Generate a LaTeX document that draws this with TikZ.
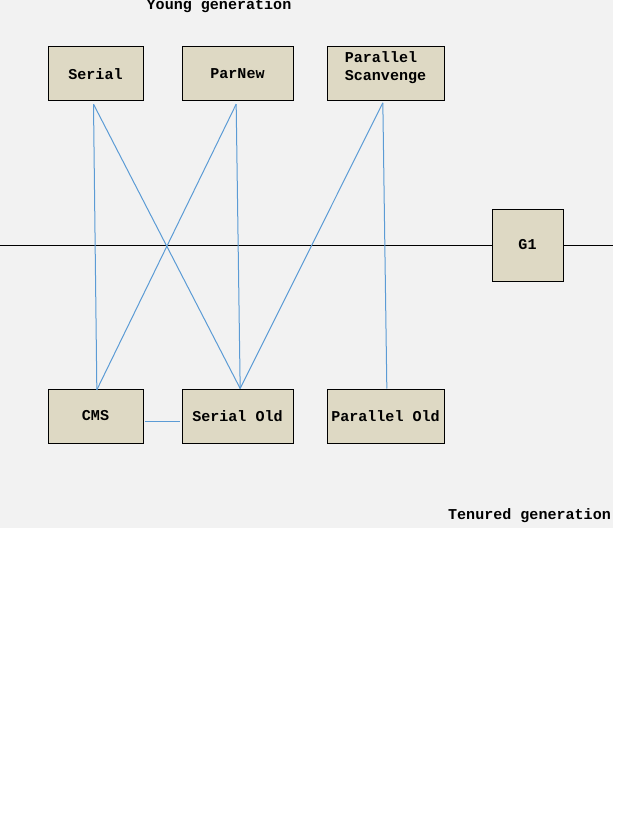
\documentclass[tikz,border=0pt]{standalone}
\usepackage{fontspec}
\setmainfont{Liberation Mono}
\begin{document}
\begin{tikzpicture}[x=0.75pt,y=-0.75pt,
  gc/.style={draw=black,line width=0.75pt,fill=boxfill,inner sep=0pt,font=\bfseries\fontsize{11.3}{13.5}\selectfont,align=center},
  lbl/.style={font=\bfseries\fontsize{11.3}{13.5}\selectfont,inner sep=0pt},
  link/.style={draw=linkblue,line width=0.75pt}]
\definecolor{boxfill}{HTML}{DED9C4}
\definecolor{bggray}{HTML}{F2F2F2}
\definecolor{linkblue}{HTML}{5B9BD5}
\useasboundingbox (0,0) rectangle (619,813);
\fill[white] (0,0) rectangle (619,813);
\fill[bggray] (0,0) rectangle (613,528);
\coordinate (hl) at (0,245);
\coordinate (hr) at (613,245);
\draw[line width=0.75pt] (hl) -- (hr);
\node[gc,minimum width=71.25pt,minimum height=40.5pt] (serial) at (95.5,74) {Serial};
\node[gc,minimum width=83.25pt,minimum height=40.5pt] (parnew) at (237.5,74) {ParNew};
\node[gc,minimum width=87.75pt,minimum height=40.5pt] (psbox) at (385.5,74) {};
\node[lbl,align=left] (pst) at (385.5,68) {Parallel\\ Scanvenge};
\node[gc,minimum width=53.25pt,minimum height=54pt] (g1) at (527.5,245) {G1};
\node[gc,minimum width=71.25pt,minimum height=40.5pt] (cms) at (95.5,416) {CMS};
\node[gc,minimum width=83.25pt,minimum height=40.5pt] (so) at (237.5,416) {Serial Old};
\node[gc,minimum width=87.75pt,minimum height=40.5pt] (po) at (385.5,416) {Parallel Old};
\draw[link] ([xshift=-1.5pt,yshift=-2pt]serial.south) -- ([xshift=1pt,yshift=-1pt]cms.north);
\draw[link] ([xshift=-1.5pt,yshift=-2pt]serial.south) -- ([xshift=2pt,yshift=0pt]so.north);
\draw[link] ([xshift=-1pt,yshift=-2pt]parnew.south) -- ([xshift=1pt,yshift=-1pt]cms.north);
\draw[link] ([xshift=-1pt,yshift=-2pt]parnew.south) -- ([xshift=2pt,yshift=0pt]so.north);
\draw[link] ([xshift=-2pt,yshift=-1pt]psbox.south) -- ([xshift=2pt,yshift=0pt]so.north);
\draw[link] ([xshift=-2pt,yshift=-1pt]psbox.south) -- ([xshift=1pt,yshift=0pt]po.north);
\draw[link] ([xshift=1pt,yshift=-3.75pt]cms.east) -- ([xshift=-1pt,yshift=-3.75pt]so.west);
\node[lbl] (yg) at (219,6) {Young generation};
\node[lbl] (tg) at (529.5,516) {Tenured generation};
\end{tikzpicture}
\end{document}
